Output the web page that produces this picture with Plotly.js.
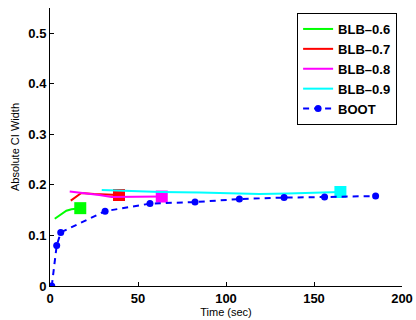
<!DOCTYPE html>
<html>
<head>
<meta charset="utf-8">
<script src="https://cdn.plot.ly/plotly-3.0.1.min.js"></script>
<style>html,body{margin:0;padding:0;background:#fff;}#chart{width:416px;height:320px;}</style>
</head>
<body>
<div id="chart"></div>
<script>
// BLB-0.6
const blb06X = [2.7, 9.3, 12.2, 17.2];
const blb06Y = [0.133, 0.149, 0.152, 0.154];
// BLB-0.7
const blb07X = [11.8, 17.8, 25, 32, 39.2];
const blb07Y = [0.169, 0.184, 0.182, 0.181, 0.180];
// BLB-0.8
const blb08X = [11.2, 20, 28, 35, 45, 55, 63.5];
const blb08Y = [0.187, 0.184, 0.180, 0.176, 0.176, 0.177, 0.177];
// BLB-0.9
const blb09X = [29.4, 45, 63, 85, 100, 119, 135, 153, 165];
const blb09Y = [0.190, 0.188, 0.186, 0.185, 0.184, 0.182, 0.183, 0.184, 0.186];
// BOOT
const bootX = [1, 3.8, 6.1, 31.3, 56.8, 82.4, 107.6, 133, 156, 185];
const bootY = [0.0, 0.080, 0.106, 0.148, 0.163, 0.166, 0.172, 0.175, 0.176, 0.178];

const xTicks = [0, 50, 100, 150, 200];
const yTicks = [0, 0.1, 0.2, 0.3, 0.4, 0.5];
const yTickText = ['0', '0.1', '0.2', '0.3', '0.4', '0.5'];

function blbTraces(name, xs, ys, color) {
  return [
    {x: xs, y: ys, type: 'scatter', mode: 'lines', name: name,
     line: {color: color, width: 2}, legendgroup: name},
    {x: [xs[xs.length - 1]], y: [ys[ys.length - 1]], type: 'scatter', mode: 'markers',
     marker: {symbol: 'square', color: color, size: 12}, showlegend: false, legendgroup: name}
  ];
}

const data = [
  ...blbTraces('BLB\u20130.6', blb06X, blb06Y, '#00ff00'),
  ...blbTraces('BLB\u20130.7', blb07X, blb07Y, '#ff0000'),
  ...blbTraces('BLB\u20130.8', blb08X, blb08Y, '#ff00ff'),
  ...blbTraces('BLB\u20130.9', blb09X, blb09Y, '#00ffff'),
  {x: bootX, y: bootY, type: 'scatter', mode: 'lines+markers', name: 'BOOT',
   line: {color: '#0000ff', width: 2, dash: '6px,5px'},
   marker: {color: '#0000ff', size: 7}}
];

const tickFont = {family: 'Liberation Sans, Arial, sans-serif', size: 13, color: '#000', weight: 'bold'};

const layout = {
  width: 416, height: 320,
  margin: {l: 50, r: 14, t: 8, b: 34},
  paper_bgcolor: '#fff', plot_bgcolor: '#fff',
  showlegend: true,
  legend: {
    x: 0.702, y: 0.982, xanchor: 'left', yanchor: 'top',
    bgcolor: '#fff', bordercolor: '#000', borderwidth: 1,
    font: {family: 'Liberation Sans, Arial, sans-serif', size: 13, color: '#000', weight: 'bold'},
    tracegroupgap: 0, itemwidth: 30
  },
  xaxis: {
    range: [0, 200], tickvals: xTicks, ticktext: xTicks.map(String),
    ticks: 'inside', ticklen: 4, tickcolor: '#000', tickwidth: 1,
    showline: true, linecolor: '#000', linewidth: 1, mirror: false,
    showgrid: false, zeroline: false, tickfont: tickFont,
    title: {text: 'Time (sec)', font: {family: 'Liberation Sans, Arial, sans-serif', size: 11, color: '#000'}, standoff: 2}
  },
  yaxis: {
    range: [0, 0.55], tickvals: yTicks, ticktext: yTickText,
    ticks: 'inside', ticklen: 4, tickcolor: '#000', tickwidth: 1,
    showline: true, linecolor: '#000', linewidth: 1, mirror: false,
    showgrid: false, zeroline: false, tickfont: tickFont,
    title: {text: 'Absolute CI Width', font: {family: 'Liberation Sans, Arial, sans-serif', size: 11, color: '#000'}, standoff: 6}
  }
};

Plotly.newPlot('chart', data, layout, {displayModeBar: false, staticPlot: true});
</script>
</body>
</html>
